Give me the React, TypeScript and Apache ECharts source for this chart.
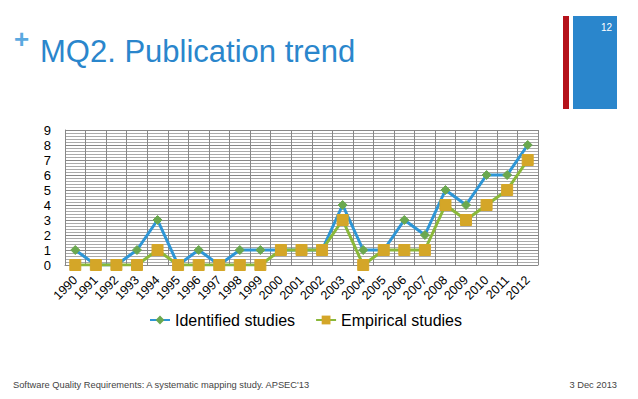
import React, { useEffect, useRef } from "react";
import * as echarts from "echarts";

const years = ["1990","1991","1992","1993","1994","1995","1996","1997","1998","1999","2000","2001","2002","2003","2004","2005","2006","2007","2008","2009","2010","2011","2012"];
const identified = [1,0,0,1,3,0,1,0,1,1,1,1,1,4,1,1,3,2,5,4,6,6,8];
const empirical = [0,0,0,0,1,0,0,0,0,0,1,1,1,3,0,1,1,1,4,3,4,5,7];
const titleText = "MQ2. Publication trend";
const footerLeft = "Software Quality Requirements: A systematic mapping study. APSEC'13";
const footerRight = "3 Dec 2013";
const pageNumber = "12";

export default function App() {
  const ref = useRef<HTMLDivElement>(null);
  useEffect(() => {
    document.body.style.margin = "0";
    const chart = echarts.init(ref.current!, undefined, { renderer: "svg" });
    const font = "Liberation Sans, Arial, sans-serif";
    chart.setOption({
      animation: false,
      backgroundColor: "#ffffff",
      textStyle: { fontFamily: font },
      grid: { left: 65, right: 100, top: 130, bottom: 134 },
      legend: {
        top: 307,
        left: 144,
        itemWidth: 20,
        itemHeight: 11,
        itemGap: 20,
        textStyle: { fontSize: 16, color: "#000", fontFamily: font },
        data: ["Identified studies", "Empirical studies"],
      },
      xAxis: {
        type: "category",
        data: years,
        boundaryGap: true,
        axisLine: { show: true, lineStyle: { color: "#888" } },
        axisTick: { show: false },
        splitLine: { show: true, interval: 0, lineStyle: { color: "#888", width: 1 } },
        axisLabel: { interval: 0, rotate: 45, fontSize: 12.5, color: "#000", margin: 13, fontFamily: font },
      },
      yAxis: {
        type: "value",
        min: 0,
        max: 9,
        interval: 1,
        axisLine: { show: true, lineStyle: { color: "#888" } },
        axisTick: { show: false },
        axisLabel: { fontSize: 13, color: "#000", margin: 14, fontFamily: font },
        splitLine: { show: true, lineStyle: { color: "#888", width: 1 } },
        minorTick: { show: false, splitNumber: 5 },
        minorSplitLine: { show: true, lineStyle: { color: "#aaa", width: 1 } },
      },
      series: [
        {
          name: "Identified studies",
          type: "line",
          data: identified,
          symbol: "diamond",
          symbolSize: 9,
          lineStyle: { color: "#2e96d6", width: 3 },
          itemStyle: { color: "#6aa84f", borderColor: "#6aa84f" },
          z: 2,
        },
        {
          name: "Empirical studies",
          type: "line",
          data: empirical,
          symbol: "rect",
          symbolSize: 11,
          lineStyle: { color: "#8ab83a", width: 3 },
          itemStyle: { color: "#d4a628", borderColor: "#d4a628" },
          z: 3,
        },
      ],
      graphic: [
        { type: "rect", shape: { x: 563, y: 16, width: 6, height: 93 }, style: { fill: "#b5121b" } },
        { type: "rect", shape: { x: 573, y: 16, width: 44, height: 93 }, style: { fill: "#2a86cc" } },
        { type: "text", x: 612, y: 22, style: { text: pageNumber, fill: "#fff", fontSize: 10, fontFamily: font, textAlign: "right" } },
        { type: "text", x: 14, y: 26, style: { text: "+", fill: "#5aa9e0", fontSize: 26, fontWeight: "bold", fontFamily: font } },
        { type: "text", x: 40, y: 36, style: { text: titleText, fill: "#2a86cc", fontSize: 31, fontFamily: font } },
        { type: "text", x: 13, y: 380, style: { text: footerLeft, fill: "#444", fontSize: 9.3, fontFamily: font } },
        { type: "text", x: 617, y: 380, style: { text: footerRight, fill: "#444", fontSize: 9.3, fontFamily: font, textAlign: "right" } },
      ],
    });
    return () => chart.dispose();
  }, []);
  return <div ref={ref} style={{ position: "absolute", left: 0, top: 0, width: 638, height: 399 }} />;
}
